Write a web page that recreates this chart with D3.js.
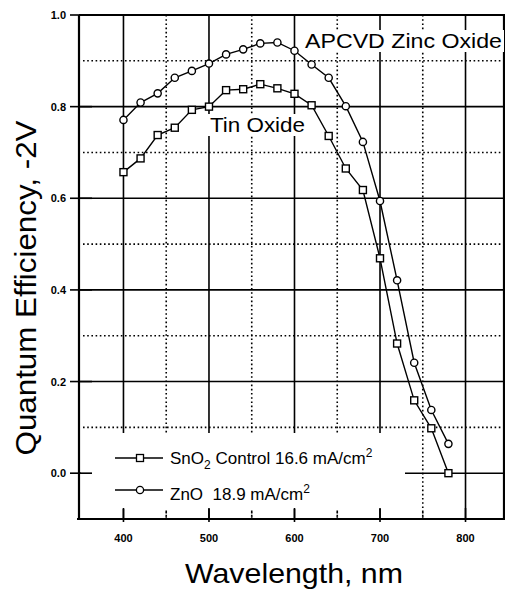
<!DOCTYPE html>
<html>
<head>
<meta charset="utf-8">
<script src="https://cdn.jsdelivr.net/npm/d3@7"></script>
<style>
  body { margin: 0; background: #fff; }
  svg { display: block; }
  text { font-family: "Liberation Sans", Arial, Helvetica, sans-serif; fill: #000; }
</style>
</head>
<body>
<svg width="505" height="591"></svg>
<script>
// wavelength (nm) and quantum efficiency
const wavelengths = [400, 420, 440, 460, 480, 500, 520, 540, 560, 580, 600, 620, 640, 660, 680, 700, 720, 740, 760, 780];
const znoQE = [0.771, 0.809, 0.829, 0.863, 0.878, 0.894, 0.914, 0.925, 0.938, 0.940, 0.922, 0.892, 0.863, 0.801, 0.723, 0.594, 0.421, 0.241, 0.138, 0.064];
const sno2QE = [0.657, 0.687, 0.738, 0.754, 0.793, 0.800, 0.836, 0.838, 0.849, 0.840, 0.828, 0.803, 0.736, 0.665, 0.618, 0.469, 0.283, 0.159, 0.098, 0.0];

const xTicks = [400, 500, 600, 700, 800];
const xMinor = [450, 550, 650, 750];
const yTicks = [0.0, 0.2, 0.4, 0.6, 0.8, 1.0];
const yMinor = [0.1, 0.3, 0.5, 0.7, 0.9];

const svg = d3.select("svg");
const frame = { left: 79, right: 504, top: 15, bottom: 519 };

const x = d3.scaleLinear().domain([348, 845]).range([frame.left, frame.right]);
const y = d3.scaleLinear().domain([-0.1, 1.0]).range([frame.bottom, frame.top]);

const g = svg.append("g");

// grid: solid majors, dotted minors
g.selectAll(".vmaj").data(xTicks).enter().append("line")
  .attr("x1", d => x(d)).attr("x2", d => x(d))
  .attr("y1", frame.top).attr("y2", frame.bottom)
  .attr("stroke", "#000").attr("stroke-width", 1.6);
g.selectAll(".vmin").data(xMinor).enter().append("line")
  .attr("x1", d => x(d)).attr("x2", d => x(d))
  .attr("y1", frame.top).attr("y2", frame.bottom)
  .attr("stroke", "#000").attr("stroke-width", 1.6).attr("stroke-dasharray", "1.6,2.6");
g.selectAll(".hmaj").data(yTicks).enter().append("line")
  .attr("x1", frame.left).attr("x2", frame.right)
  .attr("y1", d => y(d)).attr("y2", d => y(d))
  .attr("stroke", "#000").attr("stroke-width", 1.6);
g.selectAll(".hmin").data(yMinor).enter().append("line")
  .attr("x1", frame.left + 4).attr("x2", frame.right)
  .attr("y1", d => y(d)).attr("y2", d => y(d))
  .attr("stroke", "#000").attr("stroke-width", 1.6).attr("stroke-dasharray", "1.6,2.6");

// legend box hides the grid underneath
const legend = { x: 81, y: 433, w: 324, h: 76 };
g.append("rect")
  .attr("x", legend.x).attr("y", legend.y)
  .attr("width", legend.w).attr("height", legend.h)
  .attr("fill", "#fff");

// ticks (drawn after the legend box so they show through it)
g.selectAll(".ytick").data(yTicks).enter().append("line")
  .attr("x1", frame.left - 9).attr("x2", frame.left + 13)
  .attr("y1", d => y(d)).attr("y2", d => y(d))
  .attr("stroke", "#000").attr("stroke-width", 1.6);
g.selectAll(".xtick").data(xTicks).enter().append("line")
  .attr("x1", d => x(d)).attr("x2", d => x(d))
  .attr("y1", frame.bottom - 11).attr("y2", frame.bottom + 3)
  .attr("stroke", "#000").attr("stroke-width", 1.6);
g.selectAll(".xmtick").data(xMinor).enter().append("line")
  .attr("x1", d => x(d)).attr("x2", d => x(d))
  .attr("y1", frame.bottom - 7).attr("y2", frame.bottom)
  .attr("stroke", "#000").attr("stroke-width", 1.6).attr("stroke-dasharray", "1.6,2.6");

// frame
g.append("path")
  .attr("d", `M${frame.left},${frame.top}H${frame.right}V${frame.bottom}H${frame.left - 2}M${frame.left},${frame.top}V${frame.bottom}`)
  .attr("fill", "none").attr("stroke", "#000").attr("stroke-width", 2.2);

// tick labels
g.selectAll(".ylab").data(yTicks).enter().append("text")
  .attr("x", frame.left - 13).attr("y", d => y(d) + 4)
  .attr("text-anchor", "end")
  .style("font-size", "11px").style("font-weight", "bold")
  .text(d => d3.format(".1f")(d));
g.selectAll(".xlab").data(xTicks).enter().append("text")
  .attr("x", d => x(d)).attr("y", 542)
  .attr("text-anchor", "middle")
  .style("font-size", "11px").style("font-weight", "bold")
  .text(d => d);

// axis titles
svg.append("text")
  .attr("transform", "translate(36,288) rotate(-90)")
  .attr("text-anchor", "middle")
  .attr("textLength", 335).attr("lengthAdjust", "spacingAndGlyphs")
  .style("font-size", "29px")
  .text("Quantum Efficiency, -2V");
svg.append("text")
  .attr("x", 185).attr("y", 583)
  .attr("textLength", 218).attr("lengthAdjust", "spacingAndGlyphs")
  .style("font-size", "28px")
  .text("Wavelength, nm");

// curve labels with white backing
function curveLabel(tx, ty, w, str) {
  g.append("rect").attr("x", tx - 3).attr("y", ty - 18).attr("width", w + 5).attr("height", 22).attr("fill", "#fff");
  g.append("text").attr("x", tx).attr("y", ty)
    .attr("textLength", w).attr("lengthAdjust", "spacingAndGlyphs")
    .style("font-size", "21px").text(str);
}
curveLabel(305, 48, 197, "APCVD Zinc Oxide");
curveLabel(210, 132, 95, "Tin Oxide");

// data series
const line = d3.line().x(d => x(d[0])).y(d => y(d[1]));
const sno2 = wavelengths.map((w, i) => [w, sno2QE[i]]);
const zno = wavelengths.map((w, i) => [w, znoQE[i]]);

g.append("path").datum(sno2).attr("d", line)
  .attr("fill", "none").attr("stroke", "#000").attr("stroke-width", 1.4);
g.append("path").datum(zno).attr("d", line)
  .attr("fill", "none").attr("stroke", "#000").attr("stroke-width", 1.4);

const sq = 7;
g.selectAll(".sq").data(sno2).enter().append("rect")
  .attr("x", d => x(d[0]) - sq / 2).attr("y", d => y(d[1]) - sq / 2)
  .attr("width", sq).attr("height", sq)
  .attr("fill", "#fff").attr("stroke", "#000").attr("stroke-width", 1.4);
g.selectAll(".ci").data(zno).enter().append("circle")
  .attr("cx", d => x(d[0])).attr("cy", d => y(d[1])).attr("r", 3.6)
  .attr("fill", "#fff").attr("stroke", "#000").attr("stroke-width", 1.4);

// legend
const rows = [
  { y: 458, base: 464, mark: "square", parts: [["SnO", 0], ["2", 1], [" Control 16.6 mA/cm", 0], ["2", -1]] },
  { y: 490, base: 500, mark: "circle", parts: [["ZnO\u00a0 18.9 mA/cm", 0], ["2", -1]] }
];
rows.forEach(r => {
  g.append("line").attr("x1", 115).attr("x2", 163).attr("y1", r.y).attr("y2", r.y)
    .attr("stroke", "#000").attr("stroke-width", 1.6);
  if (r.mark === "square") {
    g.append("rect").attr("x", 136.5).attr("y", r.y - 3.5).attr("width", 7).attr("height", 7)
      .attr("fill", "#fff").attr("stroke", "#000").attr("stroke-width", 1.3);
  } else {
    g.append("circle").attr("cx", 140).attr("cy", r.y).attr("r", 3.6)
      .attr("fill", "#fff").attr("stroke", "#000").attr("stroke-width", 1.3);
  }
  const t = g.append("text").attr("x", 170).attr("y", r.base).style("font-size", "17px");
  let shift = 0;
  r.parts.forEach(([s, pos]) => {
    const dy = pos === 1 ? 5 : pos === -1 ? -7 : 0;
    t.append("tspan").attr("dy", dy - shift)
      .style("font-size", pos === 0 ? "17px" : "12px").text(s);
    shift = dy;
  });
});
</script>
</body>
</html>
